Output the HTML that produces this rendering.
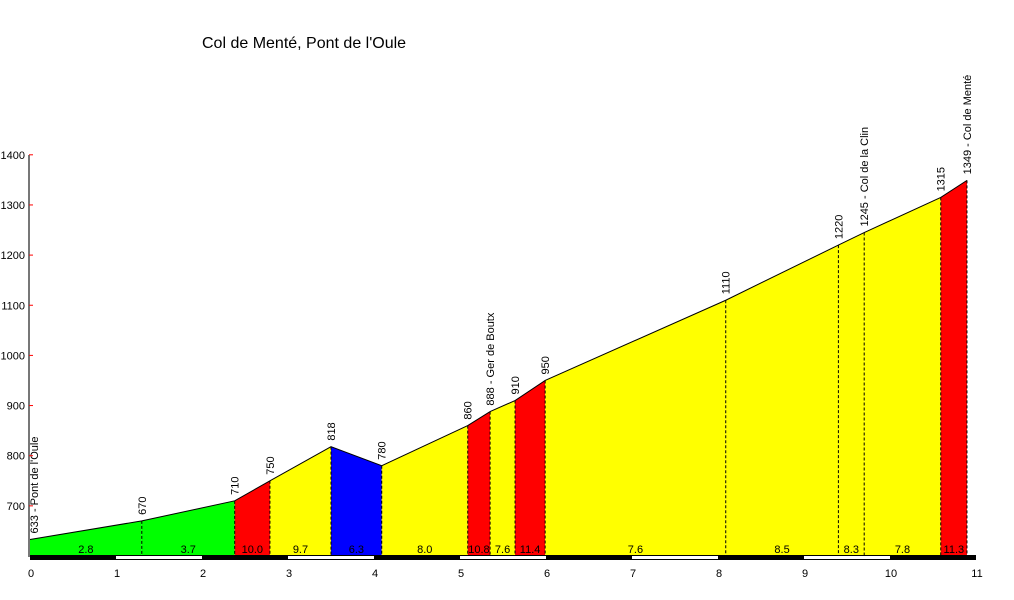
<!DOCTYPE html>
<html><head><meta charset="utf-8"><style>
body{margin:0;background:#fff;}
svg{display:block;font-family:"Liberation Sans",Arial,sans-serif;}
</style></head><body>
<svg id="c" width="1014" height="600" viewBox="0 0 1014 600">
<text x="202" y="48" font-size="16">Col de Menté,       Pont de l'Oule</text>
</svg>
<script>
const kms=[0,1.3,2.38,2.79,3.5,4.09,5.09,5.35,5.64,5.99,8.09,9.40,9.70,10.59,10.895];
const alts=[633,670,710,750,818,780,860,888,910,950,1110,1220,1245,1315,1349];
const names=["Pont de l'Oule","","","","","","","Ger de Boutx","","","","","Col de la Clin","","Col de Menté"];
const grads=["2.8","3.7","10.0","9.7","6.3","8.0","10.8","7.6","11.4","7.6","8.5","8.3","7.8","11.3"];
const cols=["#00ff00","#00ff00","#ff0000","#ffff00","#0000ff","#ffff00","#ff0000","#ffff00","#ff0000","#ffff00","#ffff00","#ffff00","#ffff00","#ff0000"];
const yTicks=[700,800,900,1000,1100,1200,1300,1400];
const xTicks=[0,1,2,3,4,5,6,7,8,9,10,11];
const X=k=>30+k*86, Y=a=>556-(a-600)*0.5015;
const svg=document.getElementById('c'),NS="http://www.w3.org/2000/svg";
function mk(t,a,p){const e=document.createElementNS(NS,t);for(const k in a)e.setAttribute(k,a[k]);(p||svg).appendChild(e);return e;}
// segments
for(let i=0;i<kms.length-1;i++){
 const p=mk('polygon',{points:`${X(kms[i])},556 ${X(kms[i])},${Y(alts[i])} ${X(kms[i+1])},${Y(alts[i+1])} ${X(kms[i+1])},556`,fill:cols[i]});
 
 const t=mk('text',{x:(X(kms[i])+X(kms[i+1]))/2,y:553,'font-size':11,'text-anchor':'middle'});t.textContent=grads[i];
 
}
// dashed verticals
for(let i=1;i<kms.length;i++){
 const l=mk('line',{x1:X(kms[i]),x2:X(kms[i]),y1:Y(alts[i]),y2:556,stroke:'#000','stroke-dasharray':'3,2','stroke-width':1});
 
}
// profile line
const pl=mk('polyline',{points:kms.map((k,i)=>X(k)+','+Y(alts[i])).join(' '),fill:'none',stroke:'#000','stroke-width':1});

// altitude labels
for(let i=0;i<kms.length;i++){
 const x=X(kms[i])+(i==0?8:4),y=Y(alts[i])-6;
 const t=mk('text',{x:x,y:y,'font-size':11,transform:`rotate(-90 ${x} ${y})`});
 t.textContent=alts[i]+(names[i]?' - '+names[i]:'');
 
}
// y axis
const ya=mk('line',{x1:29,x2:29,y1:155,y2:557,stroke:'#777','stroke-width':2});

yTicks.forEach(v=>{
 const tk=mk('line',{x1:29,x2:33,y1:Y(v),y2:Y(v),stroke:'#f00'});
 
 const t=mk('text',{x:25,y:Y(v)+4,'font-size':11,'text-anchor':'end'});t.textContent=v;
 
});
// km bar
const bar=mk('rect',{x:30,y:555,width:946,height:5,fill:'#000'});

for(let k=1;k<11;k+=2){
 const r=mk('rect',{x:X(k),y:556,width:86,height:3,fill:'#fff'});
 
}
xTicks.forEach(v=>{
 const t=mk('text',{x:X(v)+1,y:577,'font-size':11,'text-anchor':'middle'});t.textContent=v;
 
});
</script>
</body></html>
